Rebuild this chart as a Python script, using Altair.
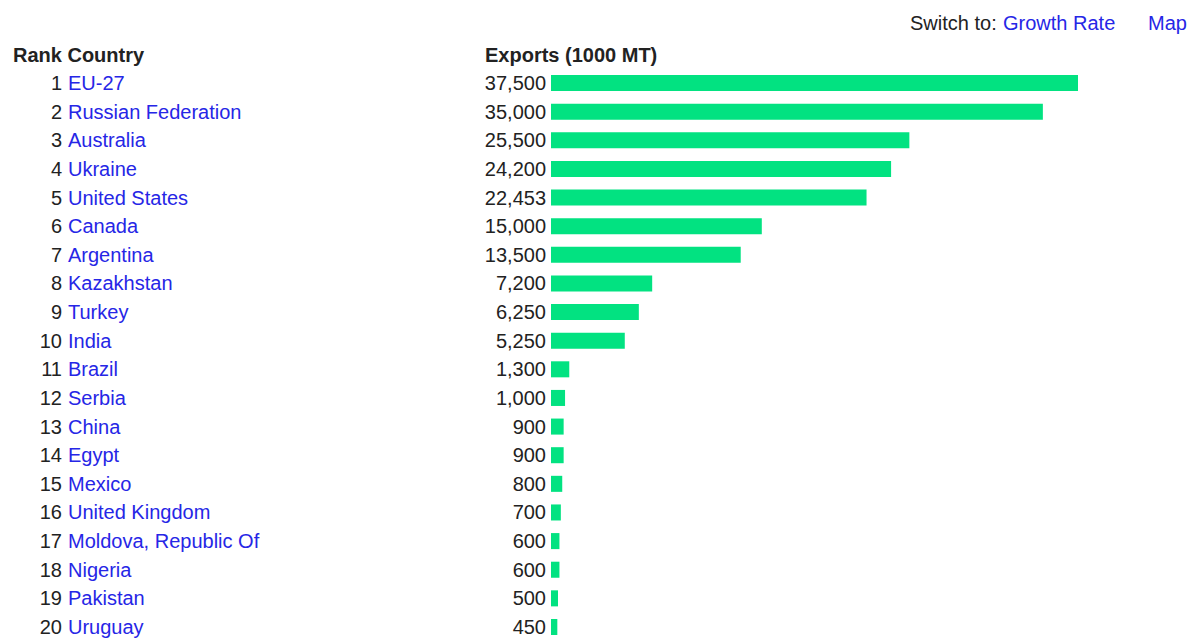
import altair as alt
import pandas as pd

ranks = list(range(1, 21))
countries = ["EU-27", "Russian Federation", "Australia", "Ukraine", "United States",
             "Canada", "Argentina", "Kazakhstan", "Turkey", "India", "Brazil", "Serbia",
             "China", "Egypt", "Mexico", "United Kingdom", "Moldova, Republic Of",
             "Nigeria", "Pakistan", "Uruguay"]
exports = [37500, 35000, 25500, 24200, 22453, 15000, 13500, 7200, 6250, 5250,
           1300, 1000, 900, 900, 800, 700, 600, 600, 500, 450]

df = pd.DataFrame({"rank": ranks, "country": countries, "exports": exports})

FONT = "Liberation Sans"
FS = 20
BLUE = "#2626e6"
BLACK = "#222222"

ysc = alt.Scale(domain=ranks, range=[60.7, 633.3], paddingInner=0.44, paddingOuter=0.22)
xsc = alt.Scale(domain=[0, 37500], range=[543, 1070])

base = alt.Chart(df)

bars = base.mark_bar(color="#02e281").encode(
    y=alt.Y("rank:O", scale=ysc, axis=None),
    x=alt.X("exports:Q", scale=xsc, axis=None),
)

rank_txt = base.mark_text(align="right", baseline="middle", font=FONT, fontSize=FS,
                          color=BLACK, dy=1).encode(
    y=alt.Y("rank:O", scale=ysc, axis=None),
    x=alt.value(54),
    text="rank:O",
)

country_txt = base.mark_text(align="left", baseline="middle", font=FONT, fontSize=FS,
                             color=BLUE, dy=1).encode(
    y=alt.Y("rank:O", scale=ysc, axis=None),
    x=alt.value(60),
    text="country:N",
)

value_txt = base.mark_text(align="right", baseline="middle", font=FONT, fontSize=FS,
                           color=BLACK, dy=1).encode(
    y=alt.Y("rank:O", scale=ysc, axis=None),
    x=alt.value(538),
    text=alt.Text("exports:Q", format=","),
)

headers = pd.DataFrame({
    "label": ["Rank Country", "Exports (1000 MT)"],
    "px": [5, 477],
})
header_txt = alt.Chart(headers).mark_text(align="left", baseline="middle", font=FONT,
                                           fontSize=FS, fontWeight="bold", color=BLACK).encode(
    x=alt.X("px:Q", scale=None, axis=None),
    y=alt.value(48),
    text="label:N",
)

links = pd.DataFrame({
    "label": ["Switch to:", "Growth Rate", "Map"],
    "px": [902, 995, 1140],
    "kind": ["plain", "link", "link"],
})
link_txt = alt.Chart(links).mark_text(align="left", baseline="middle", font=FONT,
                                       fontSize=FS).encode(
    x=alt.X("px:Q", scale=None, axis=None),
    y=alt.value(16),
    text="label:N",
    color=alt.Color("kind:N", scale=alt.Scale(domain=["plain", "link"], range=[BLACK, BLUE]),
                    legend=None),
)

chart = alt.layer(bars, rank_txt, country_txt, value_txt, header_txt, link_txt).properties(
    width=1183, height=631,
    autosize=alt.AutoSizeParams(type="none"),
    padding=0,
).configure_view(stroke=None).resolve_scale(x="independent", y="independent")

chart.save("out.html", embed_options={"renderer": "svg", "actions": False})
